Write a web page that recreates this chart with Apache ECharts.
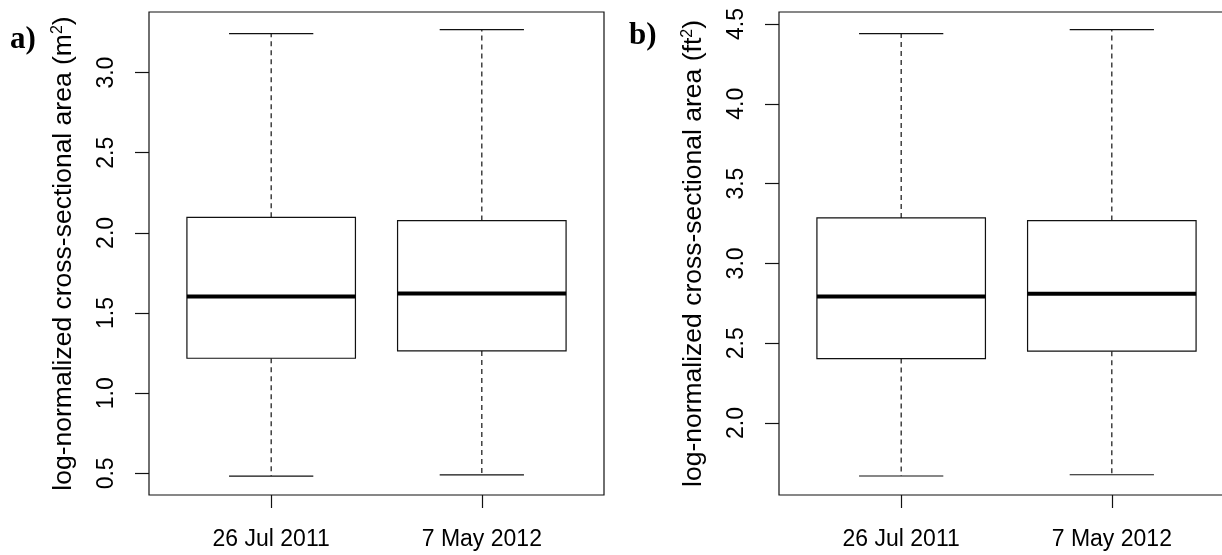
<!DOCTYPE html>
<html>
<head>
<meta charset="utf-8">
<script src="https://cdn.jsdelivr.net/npm/echarts@6/dist/echarts.min.js"></script>
<style>
html,body{margin:0;padding:0;background:#fff;}
#chart{width:1222px;height:555px;}
</style>
</head>
<body>
<div id="chart"></div>
<script>
// ---- data ----
const categories = ['26 Jul 2011', '7 May 2012'];
const categoryPos = [1, 2];

// panel a: log-normalized cross-sectional area (m^2)
const m2Min = [0.483, 0.491];
const m2Q1  = [1.218, 1.264];
const m2Med = [1.604, 1.622];
const m2Q3  = [2.097, 2.077];
const m2Max = [3.243, 3.268];
const m2Ticks = [0.5, 1.0, 1.5, 2.0, 2.5, 3.0];
const m2Range = [0.365, 3.378];

// panel b: log-normalized cross-sectional area (ft^2)
const ft2Min = [1.668, 1.676];
const ft2Q1  = [2.404, 2.450];
const ft2Med = [2.792, 2.810];
const ft2Q3  = [3.285, 3.268];
const ft2Max = [4.439, 4.464];
const ft2Ticks = [2.0, 2.5, 3.0, 3.5, 4.0, 4.5];
const ft2Range = [1.549, 4.575];

const xRange = [0.42, 2.58];

function rows(mn, q1, md, q3, mx) {
  return categoryPos.map((p, i) => [p, mn[i], q1[i], md[i], q3[i], mx[i]]);
}

const BOX_HALF = 0.4, CAP_HALF = 0.2;
const INK = '#111';

function renderBox(params, api) {
  const x = api.value(0);
  const mn = api.value(1), q1 = api.value(2), md = api.value(3), q3 = api.value(4), mx = api.value(5);
  const c = (a, b) => api.coord([a, b]);
  const line = (p1, p2, extra) => ({
    type: 'line',
    shape: {x1: p1[0], y1: p1[1], x2: p2[0], y2: p2[1]},
    style: Object.assign({stroke: INK, lineWidth: 1.2, fill: null}, extra || {})
  });
  const tl = c(x - BOX_HALF, q3), br = c(x + BOX_HALF, q1);
  return {
    type: 'group',
    children: [
      line(c(x, q3), c(x, mx), {lineDash: [5, 4]}),
      line(c(x, q1), c(x, mn), {lineDash: [5, 4]}),
      line(c(x - CAP_HALF, mx), c(x + CAP_HALF, mx)),
      line(c(x - CAP_HALF, mn), c(x + CAP_HALF, mn)),
      {
        type: 'rect',
        shape: {x: tl[0], y: tl[1], width: br[0] - tl[0], height: br[1] - tl[1]},
        style: {fill: '#fff', stroke: INK, lineWidth: 1.2}
      },
      line(c(x - BOX_HALF, md), c(x + BOX_HALF, md), {lineWidth: 4, stroke: '#000'})
    ]
  };
}

const FONT = '"Liberation Sans", Arial, sans-serif';

function xAxisCfg(idx) {
  return {
    type: 'value', gridIndex: idx, min: xRange[0], max: xRange[1],
    axisLine: {show: false},
    splitLine: {show: false},
    axisTick: {show: true, customValues: categoryPos, length: 13, inside: false,
               lineStyle: {color: INK, width: 1.2}},
    axisLabel: {show: true, customValues: categoryPos, margin: 33,
                formatter: v => categories[Math.round(v) - 1] || '',
                color: '#000', fontSize: 23, fontFamily: FONT}
  };
}

function yAxisCfg(idx, range, ticks, unit) {
  return {
    type: 'value', gridIndex: idx, min: range[0], max: range[1],
    axisLine: {show: false},
    splitLine: {show: false},
    axisTick: {show: true, customValues: ticks, length: 14,
               lineStyle: {color: INK, width: 1.2}},
    axisLabel: {show: true, customValues: ticks, rotate: 90, margin: 31,
                formatter: v => Number(v).toFixed(1),
                color: '#000', fontSize: 23, fontFamily: FONT},
    name: '{t|log-normalized cross-sectional area (' + unit + '}{s|2}{t|)}',
    nameLocation: 'middle', nameRotate: 90, nameGap: 71,
    nameTextStyle: {
      rich: {
        t: {fontSize: 26.5, fontFamily: FONT, color: '#000'},
        s: {fontSize: 16, fontFamily: FONT, color: '#000', verticalAlign: 'top', padding: [0, 0, 12, 0]}
      }
    }
  };
}

const chart = echarts.init(document.getElementById('chart'), null, {renderer: 'canvas'});
chart.setOption({
  animation: false,
  backgroundColor: '#fff',
  grid: [
    {left: 149, top: 12, width: 455, height: 483, outerBoundsMode: 'none', containLabel: false,
     show: true, borderColor: INK, borderWidth: 1.2, backgroundColor: 'transparent'},
    {left: 779, top: 12, width: 455, height: 483, outerBoundsMode: 'none', containLabel: false,
     show: true, borderColor: INK, borderWidth: 1.2, backgroundColor: 'transparent'}
  ],
  xAxis: [xAxisCfg(0), xAxisCfg(1)],
  yAxis: [yAxisCfg(0, m2Range, m2Ticks, 'm'), yAxisCfg(1, ft2Range, ft2Ticks, 'ft')],
  graphic: [
    {type: 'text', left: 10, top: 24, style: {text: 'a)', font: 'bold 31px "Liberation Serif", "Times New Roman", serif', fill: '#000'}},
    {type: 'text', left: 629, top: 20, style: {text: 'b)', font: 'bold 31px "Liberation Serif", "Times New Roman", serif', fill: '#000'}}
  ],
  series: [
    {type: 'custom', xAxisIndex: 0, yAxisIndex: 0, renderItem: renderBox,
     encode: {x: 0, y: [1, 2, 3, 4, 5]},
     data: rows(m2Min, m2Q1, m2Med, m2Q3, m2Max)},
    {type: 'custom', xAxisIndex: 1, yAxisIndex: 1, renderItem: renderBox,
     encode: {x: 0, y: [1, 2, 3, 4, 5]},
     data: rows(ft2Min, ft2Q1, ft2Med, ft2Q3, ft2Max)}
  ]
});
</script>
</body>
</html>
